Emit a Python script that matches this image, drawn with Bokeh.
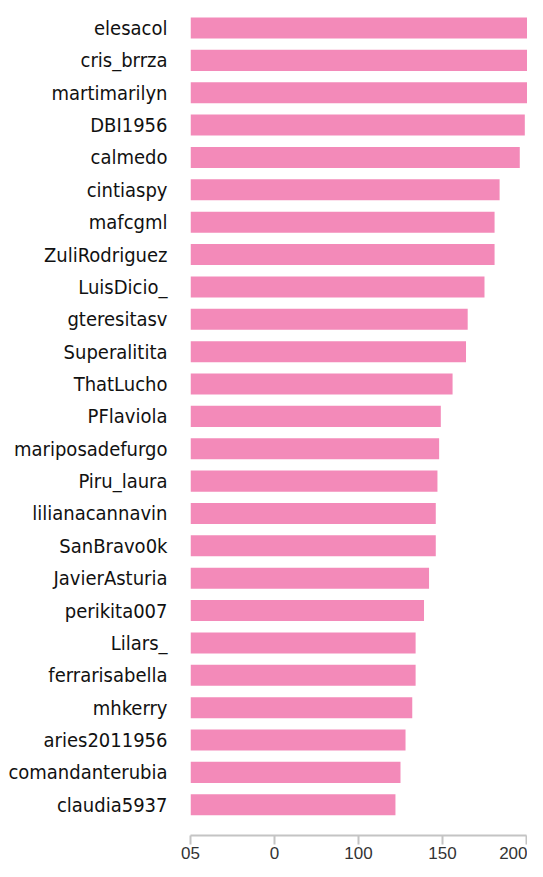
from bokeh.plotting import figure
from bokeh.models import Range1d, FixedTicker, ColumnDataSource
from bokeh.embed import file_html
from bokeh.resources import INLINE

users = ["elesacol", "cris_brrza", "martimarilyn", "DBI1956", "calmedo", "cintiaspy",
         "mafcgml", "ZuliRodriguez", "LuisDicio_", "gteresitasv", "Superalitita",
         "ThatLucho", "PFlaviola", "mariposadefurgo", "Piru_laura", "lilianacannavin",
         "SanBravo0k", "JavierAsturia", "perikita007", "Lilars_", "ferrarisabella",
         "mhkerry", "aries2011956", "comandanterubia", "claudia5937"]
counts = [211, 211, 209, 199, 196, 184, 181, 181, 175, 165, 164, 156, 149, 148, 147,
          146, 146, 142, 139, 134, 134, 132, 128, 125, 122]
x_ticks = [0, 50, 100, 150, 200]
x_tick_labels = ["05", "0", "100", "150", "200"]

n = len(users)
pos = [n - 1 - i for i in range(n)]
src = ColumnDataSource(dict(y=pos, right=counts, name=users))

p = figure(width=527, height=861, output_backend="svg", toolbar_location=None,
           x_range=Range1d(0, 200.6), y_range=Range1d(-0.95, n - 1 + 0.85),
           min_border_left=190, min_border_right=0, min_border_top=0, min_border_bottom=0)
p.outline_line_color = None
p.grid.visible = False
p.background_fill_color = "white"
p.border_fill_color = "white"

p.hbar(y="y", left=0, right="right", height=0.65, source=src,
       fill_color="#f38ab9", line_color=None)

ya = p.yaxis[0]
ya.ticker = FixedTicker(ticks=pos)
ya.major_label_overrides = {pv: u for pv, u in zip(pos, users)}
ya.axis_line_color = None
ya.major_tick_line_color = None
ya.minor_tick_line_color = None
ya.major_tick_out = 0
ya.major_tick_in = 0
ya.major_label_standoff = 23
ya.major_label_text_font = "DejaVu Sans Condensed"
ya.major_label_text_font_size = "20px"
ya.major_label_text_color = "#111111"

xa = p.xaxis[0]
xa.ticker = FixedTicker(ticks=x_ticks)
xa.major_label_overrides = {t: l for t, l in zip(x_ticks, x_tick_labels)}
xa.bounds = (0, 200)
xa.axis_line_color = "#c4c4c4"
xa.axis_line_width = 2
xa.major_tick_line_color = "#c4c4c4"
xa.major_tick_line_width = 2
xa.major_tick_out = 9
xa.major_tick_in = 0
xa.minor_tick_line_color = None
xa.major_label_standoff = 2
xa.major_label_text_font = "Liberation Sans"
xa.major_label_text_font_size = "17px"
xa.major_label_text_color = "#333333"

open("out.html", "w").write(file_html(p, INLINE))
